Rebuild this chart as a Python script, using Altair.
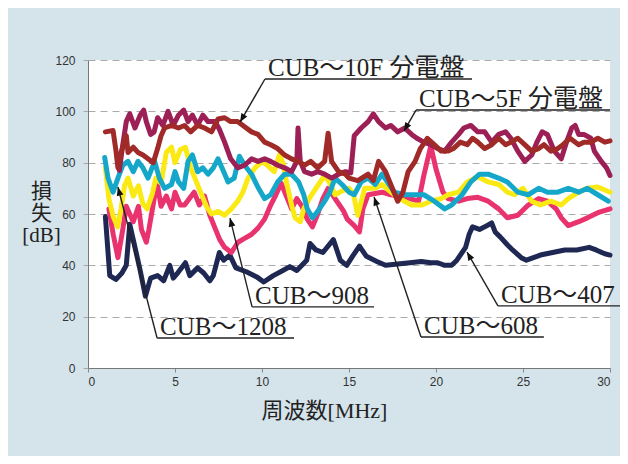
import math
import altair as alt
import pandas as pd

# ---------------- data (frequency MHz, loss dB) ----------------
X_TICKS = [0, 5, 10, 15, 20, 25, 30]
Y_TICKS = [0, 20, 40, 60, 80, 100, 120]

CUB_407 = [(1.0,59),(1.25,36),(1.6,34.5),(1.95,37),(2.2,40),(2.4,56),(2.6,50),(3.0,38),(3.3,28),(3.6,35),
           (4.0,36),(4.35,34),(4.7,40),(4.9,35),(5.15,37),(5.6,41),(5.85,36),(6.3,39),(6.65,37),(7.0,34),
           (7.2,36),(7.55,45),(7.8,42),(8.15,44),(8.5,39),(9.1,37.5),(9.7,35.5),(10.1,33.5),(10.65,36),
           (11.2,38),(11.6,39.5),(12.0,38),(12.57,42),(12.76,48.5),(13.1,46),(13.5,45),(14.1,50),(14.5,42),
           (14.87,40),(15.2,43.5),(15.6,47.5),(16.0,43.5),(16.6,41.5),(17.1,40),(17.8,40.5),(18.5,41),
           (19.15,41.5),(19.7,41),(20.1,41),(20.5,40),(20.9,40),(21.2,42),(21.7,47),(21.9,52),(22.1,55),
           (22.5,54),(22.8,55),(23.2,56.5),(23.4,53),(23.7,51),(24.1,48),(24.4,46),(24.9,43),(25.2,42),
           (25.6,43),(26.0,44),(26.7,45),(27.4,46),(28.1,46),(28.8,47),(29.2,46),(29.7,44.5),(30.0,44)]

CUB_1208 = [(1.2,62),(1.45,52),(1.72,43),(2.0,54),(2.2,63),(2.6,57),(2.9,63),(3.07,54),(3.35,49),(3.5,54),
            (3.83,67),(4.0,71),(4.2,63),(4.5,67),(4.8,62),(5.0,68.5),(5.3,63.5),(5.55,63.5),(6.1,68.5),
            (6.4,63.5),(6.7,67),(7.0,59.5),(7.3,54.5),(7.57,50),(7.85,47),(8.24,45),(8.62,49),(9.0,50.5),
            (9.39,52),(9.77,54.5),(10.15,58),(10.5,63.5),(10.8,67.5),(11.1,72),(11.4,67),(11.7,62),
            (12.0,66),(12.3,63),(12.6,58),(12.9,55),(13.2,60),(13.5,66),(13.8,70),(14.1,67),(14.4,64),
            (14.7,61),(14.9,58),(15.3,55.5),(15.6,53),(15.8,62),(16.1,67.5),(16.9,68.5),(17.4,67.5),
            (17.9,67),(18.5,66),(19.0,65),(19.3,75),(19.7,86.5),(20.0,77.5),(20.4,68.5),(20.7,66),
            (21.3,65),(21.8,66),(22.4,66.5),(23.0,65),(23.6,62),(24.1,58.5),(24.7,59.5),(25.3,63.5),
            (25.9,66),(26.4,65),(26.9,62),(27.2,58.5),(27.6,55.5),(28.2,57),(28.7,58.5),(29.3,60.5),(30.0,62)]

CUB_908 = [(1.0,78),(1.2,66),(1.45,59),(1.7,55),(1.9,62),(2.1,71),(2.3,74),(2.6,67),(2.9,71),(3.15,64),
           (3.4,62),(3.7,68),(3.9,74),(4.2,72),(4.5,84),(4.8,86),(5.0,80),(5.3,85),(5.6,86),(5.9,78),
           (6.2,73),(6.5,68),(6.8,63),(7.1,60),(7.47,61),(7.85,59.5),(8.24,62),(8.6,65),(8.9,68.5),
           (9.2,74),(9.6,78),(10.0,80.5),(10.3,79),(10.7,76.5),(11.0,83),(11.2,80),(11.4,72.5),(11.7,63.5),
           (11.9,58.5),(12.2,57),(12.4,62),(12.8,67),(13.2,71),(13.6,75),(13.9,72),(14.2,67.5),(14.6,69),
           (15.0,70),(15.25,68),(15.5,59.5),(15.9,70),(16.5,70),(16.9,71.5),(17.6,67.5),(17.9,66),
           (18.6,63.5),(19.2,63.5),(19.7,65),(20.3,66),(20.7,67.5),(21.3,68.5),(21.8,72.5),(22.4,74.5),
           (23.0,72.5),(23.6,71.5),(24.1,68.5),(24.5,67.5),(25.0,70),(25.5,65),(26.0,63.5),(26.6,65),
           (27.2,63.5),(27.6,66),(28.2,68.5),(28.7,70),(29.3,70.5),(30.0,68.5)]

CUB_608 = [(0.96,82),(1.15,74),(1.44,68.5),(1.72,74),(2.0,79),(2.3,80.5),(2.6,76.5),(2.87,80.5),(3.16,78),
           (3.45,74),(3.83,80.5),(4.1,74),(4.4,70),(4.8,71.5),(5.0,76.5),(5.2,72.5),(5.5,70),(5.75,80.5),
           (6.0,83),(6.3,76.5),(6.6,78),(6.9,75.5),(7.2,78),(7.47,81.5),(7.8,76.5),(8.05,72.5),(8.4,74),
           (8.7,82.5),(9.0,79),(9.4,75.5),(9.8,70),(10.15,66),(10.5,67.5),(10.9,72.5),(11.3,75.5),
           (11.7,75.5),(12.1,72.5),(12.4,67.5),(12.6,62),(12.9,58.5),(13.2,61),(13.6,65),(13.9,68.5),
           (14.2,74),(14.6,71.5),(15.0,68.5),(15.3,67.5),(15.7,72.5),(16.1,74),(16.5,71.5),(16.9,75.5),
           (17.2,72.5),(17.6,68.5),(18.2,67.5),(18.8,67.5),(19.3,67.5),(19.9,65),(20.5,62),(20.9,63.5),
           (21.5,67.5),(22.0,72.5),(22.5,75.5),(23.0,75.5),(23.6,74),(24.1,72.5),(24.7,68.5),(25.3,67.5),
           (25.9,70),(26.4,68.5),(27.0,68.5),(27.6,70),(28.2,68.5),(28.7,70),(29.3,67.5),(29.9,65)]

CUB_5F = [(1.8,77),(2.0,87),(2.2,96),(2.4,99),(2.7,93.5),(3.0,98.5),(3.2,100.5),(3.35,96),(3.6,91),(3.8,92),
          (4.0,97.5),(4.3,94.5),(4.6,100),(4.9,94.5),(5.2,98.5),(5.5,100.5),(5.75,96),(6.0,98.5),(6.3,94.5),
          (6.6,98.5),(6.9,96),(7.3,96),(7.55,93),(7.85,88),(8.2,81.5),(8.6,78),(9.0,79),(9.4,81.5),
          (9.77,80.5),(10.15,81.5),(10.5,80.5),(10.9,79),(11.3,78),(11.7,76.5),(12.0,80.5),(12.07,93.5),
          (12.2,80.5),(12.45,76.5),(12.85,75.5),(13.2,76.5),(13.6,75.5),(14.0,74),(14.4,75.5),(14.8,76.5),
          (15.1,76),(15.3,90.5),(15.7,93.5),(16.1,96),(16.4,99),(16.7,96),(17.1,93.5),(17.4,94.5),
          (17.8,92),(18.2,93.5),(18.6,91),(18.9,89.5),(19.3,88),(19.7,87),(20.1,85.5),(20.5,84.5),
          (20.9,88),(21.3,91),(21.6,93.5),(22.0,94.5),(22.4,92),(22.8,92),(23.2,88),(23.6,91),(24.0,92),
          (24.3,89.5),(24.7,84.5),(25.1,80.5),(25.5,83),(25.8,88),(26.1,92),(26.4,91),(26.8,84.5),
          (27.2,81.5),(27.5,88),(27.8,93.5),(28.0,94.5),(28.2,91),(28.5,91),(28.9,89.5),(29.1,84.5),
          (29.5,80.5),(29.8,78),(30.0,75)]

CUB_10F = [(1.0,92),(1.44,92.5),(1.6,85),(1.72,78),(1.9,84),(2.2,90.5),(2.3,84),(2.6,86),(2.87,84),
           (3.16,83),(3.45,81.5),(3.75,80),(4.0,85.5),(4.2,90.5),(4.4,93.5),(4.8,94.5),(5.2,93.5),
           (5.55,94.5),(5.9,92),(6.3,94.5),(6.7,93.5),(7.1,92),(7.47,97),(7.85,97.5),(8.2,96),(8.6,96),
           (9.0,94),(9.4,92),(9.77,91),(10.15,88),(10.5,87),(10.9,85.5),(11.3,83),(11.7,81.5),(12.07,80.5),
           (12.45,79),(12.8,80.5),(13.2,78),(13.6,80.5),(13.8,91.5),(14.0,80.5),(14.4,76.5),(14.8,75.5),
           (15.0,74),(15.5,73),(16.1,75.5),(16.4,73),(16.7,80.5),(17.1,76.5),(17.4,71.5),(17.8,65),
           (18.1,68.5),(18.4,76.5),(18.8,80.5),(19.1,85.5),(19.5,89.5),(19.9,87),(20.3,84.5),(20.7,84.5),
           (21.0,85.5),(21.4,88),(21.8,87),(22.1,89.5),(22.4,88),(22.8,85.5),(23.2,87),(23.6,89.5),
           (24.0,87),(24.3,88),(24.7,89.5),(25.1,87),(25.5,84.5),(25.9,85.5),(26.2,87),(26.6,84.5),
           (27.0,85.5),(27.3,87),(27.7,89.5),(28.2,87),(28.5,88),(28.9,88),(29.3,89.5),(29.7,88),(30.0,88.5)]

SERIES_NAMES = ["CUB～407", "CUB～1208", "CUB～908", "CUB～608", "CUB～5F 分電盤", "CUB～10F 分電盤"]
SERIES_DATA = [CUB_407, CUB_1208, CUB_908, CUB_608, CUB_5F, CUB_10F]
SERIES_COLORS = ["#1e2852", "#e8336e", "#fbe914", "#15a7c9", "#9c1f55", "#a02a28"]

# annotation: label, underline start x, underline end x, underline y, arrow tip x, arrow tip y
ANN_LABELS = ["CUB～10F 分電盤", "CUB～5F 分電盤", "CUB～908", "CUB～1208", "CUB～407", "CUB～608"]
ANN_UX1 = [10.17, 18.85, 9.43, 3.97, 23.56, 19.14]
ANN_UX2 = [22.07, 30.0, 16.44, 11.84, 31.0, 26.2]
ANN_UY = [112.6, 100.5, 23.8, 11.7, 24.2, 12.1]
ANN_TX = [8.74, 18.16, 8.16, 1.72, 21.78, 16.44]
ANN_TY = [95.8, 92.3, 58.4, 70.5, 45.2, 66.6]

# ---------------- build ----------------
W, H = 522, 308
XMAX, YMAX = 30, 120

rows = []
for name, pts in zip(SERIES_NAMES, SERIES_DATA):
    for f, v in pts:
        rows.append({"s": name, "f": f, "v": v})
df = pd.DataFrame(rows)

xs = alt.Scale(domain=[0, XMAX], nice=False, zero=False)
ys = alt.Scale(domain=[0, YMAX], nice=False)

LABEL_FONT = "Liberation Sans, Arial, sans-serif"
SERIF = "Liberation Serif, Noto Sans CJK JP, serif"

x_axis = alt.Axis(values=X_TICKS, grid=False, title="周波数[MHz]", titleFont=SERIF, titleFontSize=22,
                  titleFontWeight="normal", titleColor="#222", titleX=236, titleY=42,
                  titleAlign="center", titleBaseline="middle",
                  labelFont=LABEL_FONT, labelFontSize=12, labelColor="#333", labelPadding=4,
                  domainColor="#777", tickColor="#888", tickSize=4)
y_axis = alt.Axis(values=Y_TICKS, grid=True, gridDash=[7, 5], gridColor="#aaaaaa", gridWidth=1,
                  title=["損", "失", "[dB]"], titleFont=SERIF, titleFontSize=21, titleFontWeight="normal",
                  titleColor="#222", titleAngle=0, titleX=-47, titleY=120, titleAlign="center",
                  titleBaseline="top", titleLineHeight=22,
                  labelFont=LABEL_FONT, labelFontSize=12, labelColor="#333", labelPadding=8,
                  domainColor="#777", tickColor="#aaa", tickSize=5)

X = alt.X("f:Q", scale=xs, axis=x_axis)
Y = alt.Y("v:Q", scale=ys, axis=y_axis)

base = alt.Chart(df)
layers = []
for name, col in zip(SERIES_NAMES, SERIES_COLORS):
    layers.append(
        base.transform_filter(alt.datum.s == name)
        .mark_line(color=col, strokeWidth=5, strokeJoin="round", strokeCap="round")
        .encode(x=X, y=Y)
    )

kx, ky = W / XMAX, H / YMAX
ann = pd.DataFrame({"label": ANN_LABELS, "ux1": ANN_UX1, "ux2": ANN_UX2, "uy": ANN_UY,
                    "tx": ANN_TX, "ty": ANN_TY})
ann["ang"] = [
    (math.degrees(math.atan2((tx - ux) * kx, (ty - uy) * ky)) + 360) % 360
    for ux, uy, tx, ty in zip(ann.ux1, ann.uy, ann.tx, ann.ty)
]

seg_rows = []
for r in ann.itertuples():
    seg_rows.append({"f": r.ux1, "v": r.uy, "f2": r.ux2, "v2": r.uy})
    seg_rows.append({"f": r.ux1, "v": r.uy, "f2": r.tx, "v2": r.ty})
segs = pd.DataFrame(seg_rows)

rules = alt.Chart(segs).mark_rule(color="#222", strokeWidth=1.4).encode(
    x=X, y=Y, x2="f2:Q", y2="v2:Q")

heads = alt.Chart(ann).mark_point(
    shape="M0,0L-0.4,1L0.4,1Z", filled=True, color="#111", opacity=1, size=290, strokeWidth=0
).encode(x=alt.X("tx:Q", scale=xs, axis=x_axis), y=alt.Y("ty:Q", scale=ys, axis=y_axis),
         angle=alt.Angle("ang:Q", scale=None))

texts = alt.Chart(ann).mark_text(
    align="left", baseline="alphabetic", dx=3, dy=-3, font=SERIF, fontSize=25, color="#222"
).encode(x=alt.X("ux1:Q", scale=xs, axis=x_axis), y=alt.Y("uy:Q", scale=ys, axis=y_axis),
         text="label:N")

chart = alt.layer(*layers, rules, heads, texts).properties(
    width=W, height=H, background="#d5e3eb",
    padding={"left": 80, "top": 52, "right": 10, "bottom": 88},
    autosize=alt.AutoSizeParams(type="none"),
).configure_view(fill="white", strokeWidth=0)

chart.save("out.html", embed_options={"renderer": "svg", "actions": False})
